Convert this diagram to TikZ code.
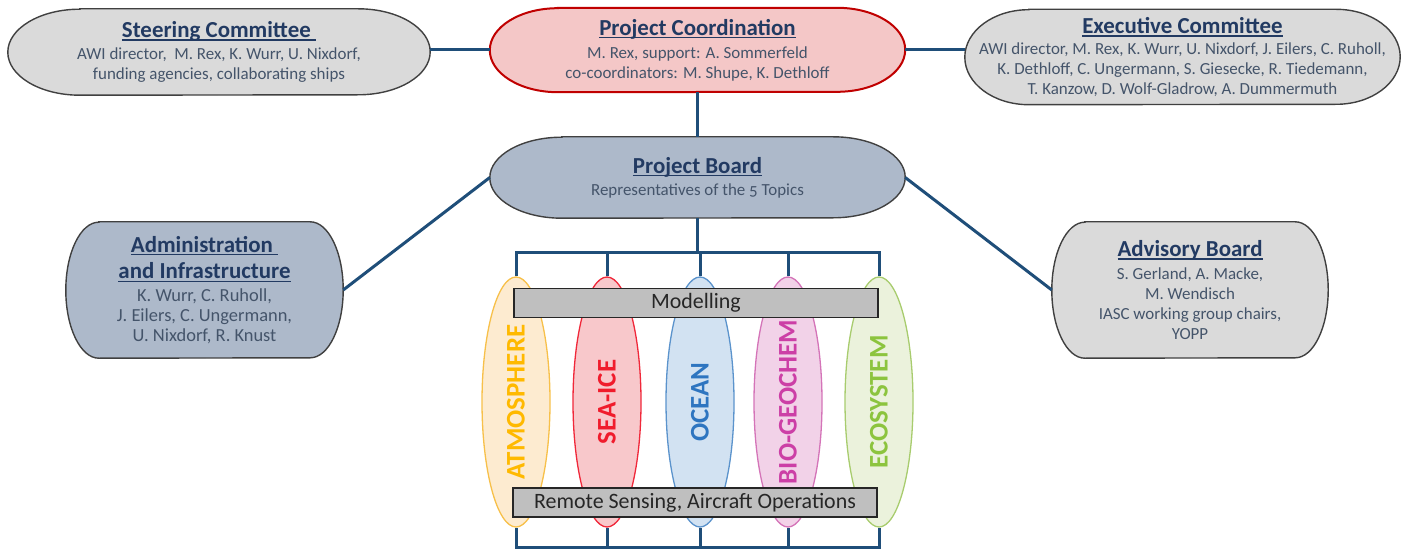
\documentclass[tikz,border=0pt]{standalone}
\usepackage{fontspec}
\setmainfont{Carlito}
\newfontfamily\oldnum{Carlito}[Numbers=OldStyle]
\usetikzlibrary{shapes.geometric,backgrounds,calc}

% palette
\definecolor{lnk}{HTML}{1F4E79}
\definecolor{hdtxt}{HTML}{223A62}
\definecolor{bodytxt}{HTML}{44546A}
\definecolor{grayfill}{HTML}{DADADA}
\definecolor{grayedge}{HTML}{404040}
\definecolor{bluefill}{HTML}{ADB9CA}
\definecolor{pinkfill}{HTML}{F4C7C7}
\definecolor{rededge}{HTML}{C00000}
\definecolor{barfill}{HTML}{BFBFBF}
\definecolor{bartxt}{HTML}{262626}
% topic colours: text, fill, edge
\definecolor{atmT}{HTML}{FFB900}\definecolor{atmF}{HTML}{FDEBD0}\definecolor{atmE}{HTML}{F7C04A}
\definecolor{iceT}{HTML}{F01C2C}\definecolor{iceF}{HTML}{F8C8CB}\definecolor{iceE}{HTML}{F0283A}
\definecolor{ocnT}{HTML}{2E75C0}\definecolor{ocnF}{HTML}{D2E2F2}\definecolor{ocnE}{HTML}{5B93CC}
\definecolor{bioT}{HTML}{CC3FA6}\definecolor{bioF}{HTML}{F2D2E8}\definecolor{bioE}{HTML}{D474B8}
\definecolor{ecoT}{HTML}{8CC43E}\definecolor{ecoF}{HTML}{EBF2DC}\definecolor{ecoE}{HTML}{A8CC6E}

\newcommand\bodyfont{\fontsize{17}{20}\selectfont}
% underline at a fixed depth, through descenders
\newcommand\hdline[1]{\setbox0=\hbox{#1}\rlap{\rule[-3pt]{\wd0}{1.3pt}}\box0}
\newcommand\hd[1]{{\fontsize{23}{20}\selectfont\bfseries\color{hdtxt}\hdline{#1}}}

% pill outline with elliptical ends behind a named node
\newcommand\pillbg[4]{%
  \begin{scope}[on background layer]
    \path[#4] ([xshift=#2]#1.north west) -- ([xshift=-#2]#1.north east)
      arc[start angle=90, end angle=-90, x radius=#2, y radius=#3]
      -- ([xshift=#2]#1.south west)
      arc[start angle=270, end angle=90, x radius=#2, y radius=#3] -- cycle;
  \end{scope}}

\tikzset{
  pillnode/.style={rectangle, draw=none, inner sep=0pt, align=center,
    text=bodytxt, font=\bodyfont},
  grayshape/.style={fill=grayfill, draw=grayedge, line width=1.4bp},
  blueshape/.style={fill=bluefill, draw=grayedge, line width=1.4bp},
  redshape/.style={fill=pinkfill, draw=rededge, line width=2bp},
  link/.style={draw=lnk, line width=3bp},
  topic/.style={ellipse, minimum width=68bp, minimum height=250bp,
    inner sep=0pt, line width=1.3bp},
  topictext/.style={rotate=90, inner sep=0pt,
    font=\fontsize{27}{27}\selectfont\bfseries},
  bar/.style={rectangle, fill=barfill, draw=bartxt, line width=1.3bp,
    minimum width=364bp, minimum height=29bp, inner sep=0pt,
    font=\fontsize{22}{22}\selectfont, text=bartxt},
}

\begin{document}
\begin{tikzpicture}[x=1bp, y=-1bp]
\useasboundingbox (0,0) rectangle (1402,549);

% committees and boards
\node[pillnode, minimum width=422bp, minimum height=86bp] (sc) at (219,52)
  {\hd{Steering Committee\ }\\[2pt]
   AWI director,\ \ M. Rex, K. Wurr, U. Nixdorf,\\
   funding agencies, collaborating ships};
\pillbg{sc}{72bp}{43bp}{grayshape}

\node[pillnode, minimum width=415bp, minimum height=84bp] (pc) at (697.5,50)
  {\hd{Project Coordination}\\[3pt]
   M. Rex, support: A. Sommerfeld\\
   co-coordinators: M. Shupe, K. Dethloff};
\pillbg{pc}{68bp}{42bp}{redshape}

\node[pillnode, minimum width=435bp, minimum height=95bp] (ec) at (1182.5,57)
  {\hd{Executive Committee}\\[1pt]
   AWI director, M. Rex, K. Wurr, U. Nixdorf, J. Eilers, C. Ruholl,\\
   K. Dethloff, C. Ungermann, S. Giesecke, R. Tiedemann,\\
   T. Kanzow, D. Wolf-Gladrow, A. Dummermuth};
\pillbg{ec}{64bp}{47.5bp}{grayshape}

\node[pillnode, minimum width=415bp, minimum height=81bp] (pb) at (697.5,177.5)
  {\hd{Project Board}\\[2pt]
   Representatives of the {\oldnum 5} Topics};
\pillbg{pb}{72bp}{40.5bp}{blueshape}

\node[pillnode, minimum width=277bp, minimum height=136bp,
      font=\fontsize{18.5}{20}\selectfont] (adm) at (204.5,290)
  {\hd{Administration\ }\\[7pt]
   \hd{and Infrastructure}\\[3pt]
   K. Wurr, C. Ruholl,\\
   J. Eilers, C. Ungermann,\\
   U. Nixdorf, R. Knust};
\pillbg{adm}{33bp}{68bp}{blueshape}

\node[pillnode, minimum width=276bp, minimum height=136bp] (adv) at (1190,290)
  {\hd{Advisory Board}\\[3pt]
   S. Gerland, A. Macke,\\
   M. Wendisch\\
   IASC working group chairs,\\
   YOPP};
\pillbg{adv}{33bp}{68bp}{grayshape}

% topics
\node[topic, fill=atmF, draw=atmE] (atm) at (516,402) {};
\node[topic, fill=iceF, draw=iceE] (ice) at (607,402) {};
\node[topic, fill=ocnF, draw=ocnE] (ocn) at (700,402) {};
\node[topic, fill=bioF, draw=bioE] (bio) at (788,402) {};
\node[topic, fill=ecoF, draw=ecoE] (eco) at (879,402) {};
\node[topictext, text=atmT] (atmt) at (atm) {ATMOSPHERE};
\node[topictext, text=iceT] (icet) at (ice) {SEA-ICE};
\node[topictext, text=ocnT] (ocnt) at (ocn) {OCEAN};
\node[topictext, text=bioT] (biot) at (bio) {BIO-GEOCHEM};
\node[topictext, text=ecoT] (ecot) at (eco) {ECOSYSTEM};

% cross-cutting activities
\node[bar] (mod) at (696,303) {Modelling};
\node[bar] (rs) at (695,502.5) {Remote Sensing, Aircraft Operations};

% connectors
\coordinate (bus) at (697.5,253);
\coordinate (bbus) at (697.5,547);
\draw[link] (sc.east |- pc.west) -- (pc.west);
\draw[link] (pc.east) -- (pc.east -| ec.west);
\draw[link] (pc.south) -- (pb.north);
\draw[link] (pb.west) -- (adm.east);
\draw[link] (pb.east) -- (adv.west);
\draw[link] (pb.south) -- (bus);
\draw[link, line cap=rect] (atm.north |- bus) -- (eco.north |- bus);
\draw[link, line cap=rect] (atm.south |- bbus) -- (eco.south |- bbus);
\foreach \t in {atm,ice,ocn,bio,eco}{
  \draw[link] (\t.north |- bus) -- (\t.north);
  \draw[link] (\t.south) -- (\t.south |- bbus);
}
\end{tikzpicture}
\end{document}
